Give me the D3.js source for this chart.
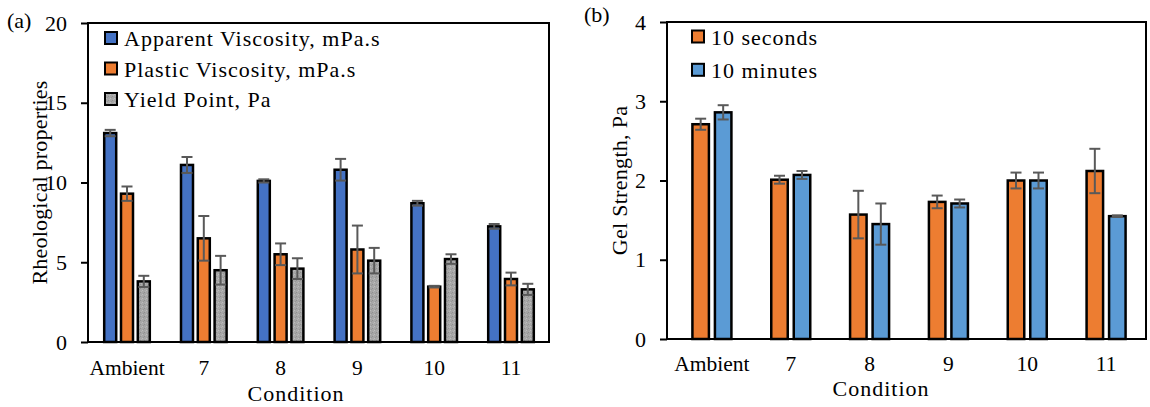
<!DOCTYPE html>
<html><head><meta charset="utf-8">
<script src="https://cdn.jsdelivr.net/npm/d3@7"></script>
<style>
html,body{margin:0;padding:0;background:#fff;}
svg{display:block;font-family:"Liberation Serif","Times New Roman",serif;}
</style></head>
<body><svg id="chart" width="1150" height="407"></svg>
<script>
// ---------- data ----------
const categories = ["Ambient", "7", "8", "9", "10", "11"];
const rheoSeries = ["Apparent Viscosity, mPa.s", "Plastic Viscosity, mPa.s", "Yield Point, Pa"];
const apparentViscosity = [13.1, 11.1, 10.1, 10.8, 8.7, 7.25];
const apparentViscosityErr = [0.2, 0.5, 0.1, 0.68, 0.15, 0.15];
const plasticViscosity = [9.3, 6.5, 5.5, 5.8, 3.47, 3.95];
const plasticViscosityErr = [0.45, 1.4, 0.68, 1.5, 0.05, 0.4];
const yieldPoint = [3.8, 4.5, 4.6, 5.1, 5.2, 3.3];
const yieldPointErr = [0.35, 0.9, 0.65, 0.8, 0.3, 0.35];
const gelSeries = ["10 seconds", "10 minutes"];
const gel10s = [2.71, 2.01, 1.57, 1.73, 2.0, 2.12];
const gel10sErr = [0.07, 0.05, 0.3, 0.08, 0.1, 0.28];
const gel10m = [2.86, 2.07, 1.45, 1.71, 2.0, 1.55];
const gel10mErr = [0.09, 0.05, 0.26, 0.05, 0.1, 0.01];
const leftTicks = [0, 5, 10, 15, 20];
const rightTicks = [0, 1, 2, 3, 4];

// ---------- drawing ----------
const svg = d3.select("#chart");
const defs = svg.append("defs");
const pat = defs.append("pattern").attr("id", "grayDots").attr("patternUnits", "userSpaceOnUse")
  .attr("width", 4).attr("height", 4);
pat.append("rect").attr("width", 4).attr("height", 4).attr("fill", "#a6a6a6");
pat.append("rect").attr("x", 0).attr("y", 0).attr("width", 1).attr("height", 1).attr("fill", "#8f8f8f");
pat.append("rect").attr("x", 2).attr("y", 2).attr("width", 1).attr("height", 1).attr("fill", "#bdbdbd");
pat.append("rect").attr("x", 3).attr("y", 1).attr("width", 1).attr("height", 1).attr("fill", "#969696");
pat.append("rect").attr("x", 1).attr("y", 3).attr("width", 1).attr("height", 1).attr("fill", "#b4b4b4");

const FONT = '"Liberation Serif","Times New Roman",serif';

function panel(cfg) {
  const g = svg.append("g");
  const y = d3.scaleLinear().domain([cfg.ticks[0], cfg.ticks[cfg.ticks.length - 1]]).range([cfg.bottom, cfg.top]);
  const x0 = d3.scaleBand().domain(categories).range([cfg.bandStart, cfg.bandEnd]);
  const groupW = cfg.pitch * cfg.series.length;
  const x1 = d3.scaleBand().domain(cfg.series).range([0, groupW]);

  // y axis
  const ya = g.append("g").attr("transform", `translate(${cfg.left},0)`)
    .call(d3.axisLeft(y).tickValues(cfg.ticks).tickFormat(d3.format("d")).tickSize(7).tickPadding(cfg.tickPad));
  ya.select(".domain").remove();
  ya.selectAll(".tick line").attr("stroke", "#000").attr("stroke-width", 2);
  ya.selectAll(".tick text").attr("font-size", 22).attr("font-family", FONT).attr("fill", "#000");

  // x axis labels
  const xa = g.append("g").attr("transform", `translate(0,${cfg.bottom})`)
    .call(d3.axisBottom(x0).tickSize(0).tickPadding(cfg.catPad));
  xa.select(".domain").remove();
  xa.selectAll(".tick text").attr("font-size", 21.5).attr("font-family", FONT).attr("fill", "#000");

  // bars
  cfg.series.forEach((s, si) => {
    const vals = cfg.values[si], errs = cfg.errors[si];
    const bw = cfg.barW;
    const gx = c => x0(c) + (x0.bandwidth() - groupW) / 2 + x1(s) + (x1.bandwidth() - bw) / 2;
    g.append("g").selectAll("rect").data(categories).join("rect")
      .attr("x", c => gx(c) + 1.25)
      .attr("y", (c, i) => y(vals[i]))
      .attr("width", bw - 2.5)
      .attr("height", (c, i) => y(0) - y(vals[i]))
      .attr("fill", cfg.colors[si])
      .attr("stroke", "#000").attr("stroke-width", 2.5);
    const eg = g.append("g").attr("stroke", "#595959").attr("stroke-width", 2);
    categories.forEach((c, i) => {
      const cx = gx(c) + bw / 2;
      const hi = y(vals[i] + errs[i]), lo = y(vals[i] - errs[i]);
      eg.append("line").attr("x1", cx).attr("x2", cx).attr("y1", hi).attr("y2", lo);
      eg.append("line").attr("x1", cx - 5.5).attr("x2", cx + 5.5).attr("y1", hi).attr("y2", hi);
      eg.append("line").attr("x1", cx - 5.5).attr("x2", cx + 5.5).attr("y1", lo).attr("y2", lo);
    });
  });

  // plot box
  g.append("rect").attr("x", cfg.left).attr("y", cfg.top)
    .attr("width", cfg.right - cfg.left).attr("height", cfg.bottom - cfg.top)
    .attr("fill", "none").attr("stroke", "#000").attr("stroke-width", 2);

  // legend
  cfg.series.forEach((s, si) => {
    const cy = cfg.legY + si * cfg.legStep;
    g.append("rect").attr("x", cfg.legX).attr("y", cy - 6.5).attr("width", 12).attr("height", 12)
      .attr("fill", cfg.colors[si]).attr("stroke", "#000").attr("stroke-width", 2);
    g.append("text").attr("x", cfg.legX + 19).attr("y", cy + 7.5)
      .attr("font-size", 22).attr("letter-spacing", 1).text(s);
  });

  // y title
  g.append("text").attr("transform", `translate(${cfg.yTitleX},${(cfg.top + cfg.bottom) / 2}) rotate(-90)`)
    .attr("text-anchor", "middle").attr("font-size", 22).attr("letter-spacing", cfg.yTitleLS).text(cfg.yTitle);
  // x title
  g.append("text").attr("x", cfg.xTitleX).attr("y", cfg.xTitleY).attr("text-anchor", "middle")
    .attr("font-size", 22).attr("letter-spacing", 1).text("Condition");
  // panel tag
  g.append("text").attr("x", cfg.tagX).attr("y", cfg.tagY).attr("font-size", 22).text(cfg.tag);
}

panel({
  series: rheoSeries, values: [apparentViscosity, plasticViscosity, yieldPoint],
  errors: [apparentViscosityErr, plasticViscosityErr, yieldPointErr],
  colors: ["#4472C4", "#ED7D31", "url(#grayDots)"],
  ticks: leftTicks, left: 88, right: 549, top: 23, bottom: 342,
  bandStart: 88.6, bandEnd: 549.4, pitch: 16.8, barW: 14.5,
  tickPad: 14, catPad: 18,
  legX: 105, legY: 38.5, legStep: 30.5,
  yTitle: "Rheological properties", yTitleX: 47, yTitleLS: 0.2,
  xTitleX: 296, xTitleY: 401, tag: "(a)", tagX: 7, tagY: 28
});

panel({
  series: gelSeries, values: [gel10s, gel10m], errors: [gel10sErr, gel10mErr],
  colors: ["#ED7D31", "#5B9BD5"],
  ticks: rightTicks, left: 667, right: 1146, top: 22, bottom: 339,
  bandStart: 672.5, bandEnd: 1145.5, pitch: 22.5, barW: 19,
  tickPad: 14, catPad: 16.5,
  legX: 692, legY: 37, legStep: 33.3,
  yTitle: "Gel Strength, Pa", yTitleX: 627, yTitleLS: 0.3,
  xTitleX: 881, xTitleY: 396, tag: "(b)", tagX: 584, tagY: 22
});
</script></body></html>
